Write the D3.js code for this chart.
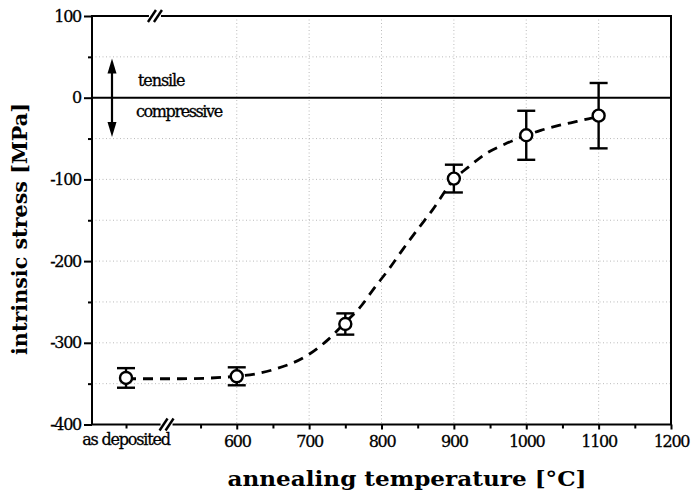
<!DOCTYPE html>
<html>
<head>
<meta charset="utf-8">
<script src="https://cdn.jsdelivr.net/npm/d3@7"></script>
<style>
  body { margin: 0; background: #fff; }
  svg { display: block; }
  text { font-family: "DejaVu Serif", "Liberation Serif", serif; fill: #000; }
</style>
</head>
<body>
<div class="canvas"></div>
<script>
// measured points (as deposited is placed at 447 on the broken axis)
const pointTemps = [447, 600, 750, 900, 1000, 1100];
const pointStress = [-343, -341, -277, -99, -46, -22];
const pointErr = [12, 11, 13, 17, 30, 40];

// dashed guide curve
const curveTemps = [447, 520, 600, 650, 700, 725, 750, 770, 790, 810, 830, 850, 870, 900, 920, 945, 970, 1000, 1020, 1045, 1070, 1100];
const curveStress = [-344, -344, -341, -333, -314, -297, -275, -257, -233, -210, -185, -161, -138, -100, -85, -68, -57, -46, -40, -34, -29, -23];

const xTicks = [600, 700, 800, 900, 1000, 1100, 1200];
const xMinor = [447, 550, 650, 750, 850, 950, 1050, 1150];
const yTicks = [100, 0, -100, -200, -300, -400];
const yMinor = [50, -50, -150, -250, -350];
const yGrid = [50, -50, -100, -150, -200, -250, -300, -350];

const width = 693, height = 496;
const margin = {top: 16, right: 22, bottom: 71.5, left: 92};

const svg = d3.select('.canvas')
  .append('svg')
    .attr('width', width)
    .attr('height', height);

const x = d3.scaleLinear()
  .domain([400, 1200])
  .range([margin.left, width - margin.right]);

const y = d3.scaleLinear()
  .domain([-400, 100])
  .range([height - margin.bottom, margin.top]);

// dotted grid
svg.append('g')
  .selectAll('line')
  .data(yGrid)
  .enter().append('line')
    .attr('x1', x(400)).attr('x2', x(1200))
    .attr('y1', d => y(d)).attr('y2', d => y(d))
    .attr('stroke', '#aaa')
    .attr('stroke-width', 0.8)
    .attr('stroke-dasharray', '1,2.5');

svg.append('g')
  .selectAll('line')
  .data(xTicks.slice(0, -1))
  .enter().append('line')
    .attr('x1', d => x(d)).attr('x2', d => x(d))
    .attr('y1', y(100)).attr('y2', y(-400))
    .attr('stroke', '#aaa')
    .attr('stroke-width', 0.8)
    .attr('stroke-dasharray', '1,2.5');

// zero line
svg.append('line')
  .attr('x1', x(400)).attr('x2', x(1200))
  .attr('y1', y(0)).attr('y2', y(0))
  .attr('stroke', '#000')
  .attr('stroke-width', 2);

// frame
svg.append('rect')
  .attr('x', x(400)).attr('y', y(100))
  .attr('width', x(1200) - x(400))
  .attr('height', y(-400) - y(100))
  .attr('fill', 'none')
  .attr('stroke', '#000')
  .attr('stroke-width', 2);

// axes
const xAxis = d3.axisBottom(x)
  .tickValues(xTicks)
  .tickSize(5)
  .tickPadding(6)
  .tickFormat(d => String(d));

const xAxisGroup = svg.append('g')
  .attr('transform', `translate(0, ${y(-400)})`)
  .call(xAxis);

const xMinorGroup = svg.append('g')
  .attr('transform', `translate(0, ${y(-400)})`)
  .call(d3.axisBottom(x).tickValues(xMinor).tickSize(4).tickFormat(''));

const yAxisGroup = svg.append('g')
  .attr('transform', `translate(${x(400)}, 0)`)
  .call(d3.axisLeft(y).tickValues(yTicks).tickSize(8).tickPadding(3)
    .tickFormat(d => String(d)));

const yMinorGroup = svg.append('g')
  .attr('transform', `translate(${x(400)}, 0)`)
  .call(d3.axisLeft(y).tickValues(yMinor).tickSize(4).tickFormat(''));

[xAxisGroup, xMinorGroup, yAxisGroup, yMinorGroup].forEach(g => {
  g.attr('font-family', null).attr('font-size', null);
  g.select('.domain').remove();
  g.selectAll('line').attr('stroke', '#000').attr('stroke-width', 2);
  g.selectAll('text')
    .attr('fill', '#000')
    .attr('stroke', '#000')
    .attr('stroke-width', 0.3)
    .style('font-size', '16px')
    .style('letter-spacing', '-1.3px');
});

// "as deposited" label
svg.append('text')
  .attr('x', x(447))
  .attr('y', y(-400) + 20)
  .attr('text-anchor', 'middle')
  .attr('stroke', '#000')
  .attr('stroke-width', 0.3)
  .style('font-size', '16px')
  .style('letter-spacing', '-1.2px')
  .text('as deposited');

// axis breaks
function axisBreak(cx, cy) {
  const g = svg.append('g').attr('transform', `translate(${cx}, ${cy})`);
  g.append('line').attr('x1', -6).attr('x2', 6).attr('y1', 0).attr('y2', 0)
    .attr('stroke', '#fff').attr('stroke-width', 4);
  [-3, 3].forEach(dx => {
    g.append('line')
      .attr('x1', dx - 4).attr('y1', 6)
      .attr('x2', dx + 4).attr('y2', -6)
      .attr('stroke', '#000')
      .attr('stroke-width', 2.4);
  });
}
axisBreak(x(487), y(100));
axisBreak(x(503), y(-400));

// dashed curve
const line = d3.line()
  .x(d => x(d[0]))
  .y(d => y(d[1]))
  .curve(d3.curveMonotoneX);

svg.append('path')
  .datum(d3.zip(curveTemps, curveStress))
  .attr('d', line)
  .attr('fill', 'none')
  .attr('stroke', '#000')
  .attr('stroke-width', 2.8)
  .attr('stroke-dasharray', '10,7');

// error bars & points
const pts = d3.zip(pointTemps, pointStress, pointErr);
const capW = 9;

const bars = svg.append('g').selectAll('g')
  .data(pts)
  .enter().append('g')
    .attr('stroke', '#000')
    .attr('stroke-width', 2.4);

bars.append('line')
  .attr('x1', d => x(d[0])).attr('x2', d => x(d[0]))
  .attr('y1', d => y(d[1] + d[2])).attr('y2', d => y(d[1] - d[2]));
bars.append('line')
  .attr('x1', d => x(d[0]) - capW).attr('x2', d => x(d[0]) + capW)
  .attr('y1', d => y(d[1] + d[2])).attr('y2', d => y(d[1] + d[2]));
bars.append('line')
  .attr('x1', d => x(d[0]) - capW).attr('x2', d => x(d[0]) + capW)
  .attr('y1', d => y(d[1] - d[2])).attr('y2', d => y(d[1] - d[2]));
bars.append('circle')
  .attr('cx', d => x(d[0]))
  .attr('cy', d => y(d[1]))
  .attr('r', 6)
  .attr('fill', '#fff');

// tensile / compressive arrows
const ax = 112;
svg.append('line')
  .attr('x1', ax).attr('x2', ax)
  .attr('y1', y(-40)).attr('y2', y(40))
  .attr('stroke', '#000').attr('stroke-width', 2.2);
[[48, 1], [-48, -1]].forEach(([v, dir]) => {
  const ty = y(v);
  svg.append('path')
    .attr('d', `M${ax},${ty} L${ax - 4.5},${ty + dir * 15} L${ax + 4.5},${ty + dir * 15} Z`)
    .attr('fill', '#000');
});

svg.append('text')
  .attr('x', 138).attr('y', y(14))
  .attr('stroke', '#000').attr('stroke-width', 0.3)
  .style('font-size', '16px')
  .style('letter-spacing', '-1.1px')
  .text('tensile');
svg.append('text')
  .attr('x', 136).attr('y', y(-24))
  .attr('stroke', '#000').attr('stroke-width', 0.3)
  .style('font-size', '16px')
  .style('letter-spacing', '-1.4px')
  .text('compressive');

// titles
svg.append('text')
  .attr('x', 407)
  .attr('y', 486)
  .attr('text-anchor', 'middle')
  .attr('textLength', 359)
  .attr('lengthAdjust', 'spacingAndGlyphs')
  .style('font-size', '21px')
  .style('font-weight', 'bold')
  .text('annealing temperature [°C]');

svg.append('text')
  .attr('transform', 'translate(27, 229) rotate(-90)')
  .attr('text-anchor', 'middle')
  .attr('textLength', 252)
  .attr('lengthAdjust', 'spacingAndGlyphs')
  .style('font-size', '21px')
  .style('font-weight', 'bold')
  .text('intrinsic stress [MPa]');
</script>
</body>
</html>
